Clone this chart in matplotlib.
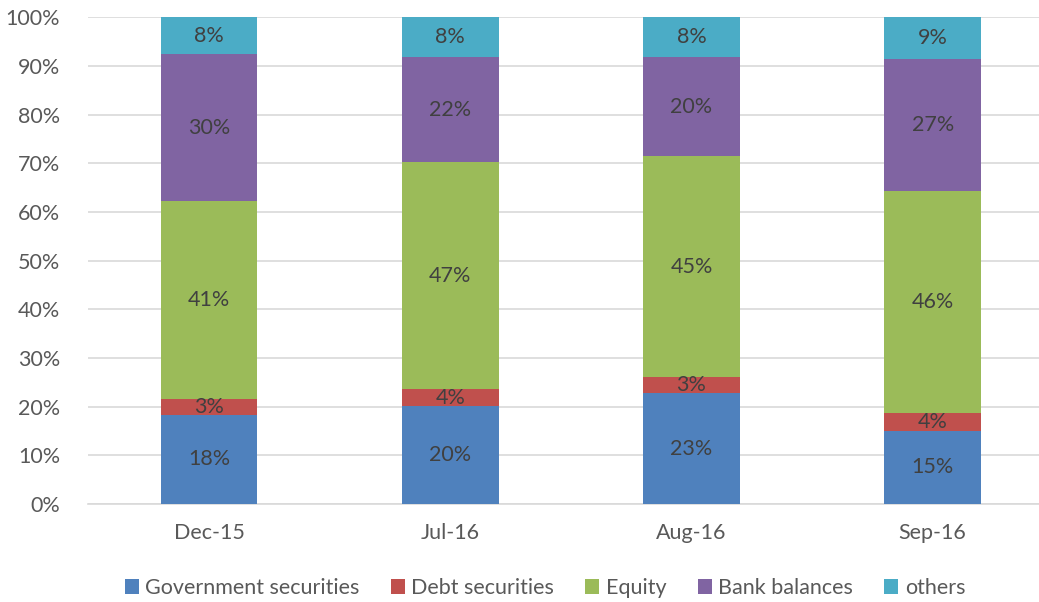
import matplotlib
matplotlib.use("Agg")
import matplotlib.pyplot as plt
import numpy as np

# data (percent of total)
categories = ["Dec-15", "Jul-16", "Aug-16", "Sep-16"]
series_names = ["Government securities", "Debt securities", "Equity", "Bank balances", "others"]
gov_sec = [18.3, 20.1, 22.8, 15.1]
debt_sec = [3.2, 3.5, 3.2, 3.6]
equity = [40.8, 46.6, 45.4, 45.6]
bank_bal = [30.1, 21.6, 20.4, 27.1]
others = [7.6, 8.2, 8.2, 8.6]

colors = ["#4F81BD", "#C0504D", "#9BBB59", "#8064A2", "#4BACC6"]

plt.rcParams["font.family"] = ["Lato", "DejaVu Sans"]

fig = plt.figure(figsize=(10.39, 6.02), dpi=100)
ax = fig.add_axes([88 / 1039, 98 / 602, 1 - 88 / 1039, (504 - 17.3) / 602])

x = np.arange(len(categories))
bottom = np.zeros(len(categories))
for name, vals, c in zip(series_names, [gov_sec, debt_sec, equity, bank_bal, others], colors):
    vals = np.array(vals)
    ax.bar(x, vals, 0.4, bottom=bottom, color=c, label=name, zorder=3)
    for xi, b, v in zip(x, bottom, vals):
        ax.text(xi, b + v / 2, f"{v:.0f}%", ha="center", va="center",
                fontsize=15.5, color="#404040", zorder=4)
    bottom += vals

ax.set_xlim(-0.502, 3.441)
ax.set_ylim(0, 100)
ax.set_yticks(np.arange(0, 101, 10))
ax.set_yticklabels([f"{v}%" for v in range(0, 101, 10)])
ax.set_xticks(x)
ax.set_xticklabels(categories)
ax.tick_params(length=0, labelsize=15.5, labelcolor="#595959")
ax.tick_params(axis="y", pad=20)
ax.tick_params(axis="x", pad=14)
ax.grid(axis="y", color="#D9D9D9", linewidth=1.2, zorder=0)
for s in ["top", "right", "left"]:
    ax.spines[s].set_visible(False)
ax.spines["bottom"].set_color("#D9D9D9")
ax.spines["bottom"].set_linewidth(1.2)

leg = ax.legend(loc="center", bbox_to_anchor=(545 / 1039, 14 / 602),
                bbox_transform=fig.transFigure, ncol=5, frameon=False,
                fontsize=15.5, handlelength=0.65, handleheight=0.65,
                handletextpad=0.3, columnspacing=1.45)
for t in leg.get_texts():
    t.set_color("#595959")

fig.savefig("out.png", dpi=100)
